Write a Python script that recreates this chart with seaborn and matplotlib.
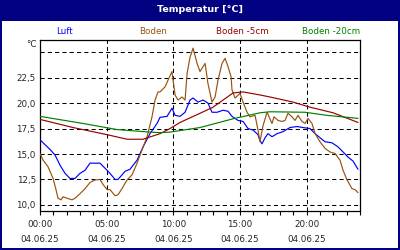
import matplotlib
matplotlib.use("Agg")
import matplotlib.pyplot as plt
import matplotlib.patches as mpatches
import seaborn as sns
import pandas as pd

# ---- data (hours since 00:00 on 04.06.25, °C) ----
luft_h = [0, 0.23, 0.75, 1.13, 1.5, 1.88, 2.25, 2.63, 3.0, 3.38, 3.75, 4.13, 4.5, 4.88,
          5.25, 5.63, 5.85, 6.38, 6.75, 7.28, 7.73, 8.25, 8.78, 9.0, 9.53, 9.9, 10.13,
          10.5, 10.88, 11.25, 11.48, 11.85, 12.23, 12.6, 12.9, 13.28, 13.73, 14.1, 14.4,
          14.85, 15.23, 15.6, 15.98, 16.35, 16.5, 16.65, 16.88, 17.1, 17.4, 17.78, 18.23,
          18.75, 19.28, 19.73, 20.25, 20.63, 21.0, 21.38, 21.9, 22.35, 22.73, 23.1, 23.48,
          23.85]
luft_v = [16.4, 16.1, 15.45, 14.9, 13.9, 13.1, 12.6, 12.6, 13.1, 13.4, 14.1, 14.1, 14.1,
          13.6, 13.1, 12.5, 12.5, 13.3, 13.5, 14.4, 15.7, 17.0, 18.0, 18.6, 18.7, 19.5,
          18.8, 18.7, 19.1, 20.3, 20.5, 20.1, 20.3, 20.0, 19.1, 19.1, 19.3, 19.2, 18.7,
          18.3, 18.2, 17.5, 17.35, 16.9, 16.3, 16.0, 16.6, 17.0, 16.7, 17.0, 17.2, 17.6,
          17.7, 17.6, 17.5, 17.0, 16.6, 16.2, 16.1, 15.7, 15.2, 14.7, 14.3, 13.5]

boden_h = [0, 0.23, 0.6, 0.98, 1.2, 1.35, 1.58, 1.73, 2.03, 2.4, 2.63, 3.0, 3.38, 3.75,
           4.13, 4.5, 4.73, 5.03, 5.25, 5.63, 5.85, 6.15, 6.53, 6.9, 7.28, 7.65, 8.03,
           8.4, 8.63, 8.85, 9.0, 9.38, 9.6, 9.9, 9.98, 10.13, 10.35, 10.65, 10.88, 11.03,
           11.25, 11.48, 11.78, 12.0, 12.38, 12.6, 12.9, 13.13, 13.35, 13.65, 13.88, 14.1,
           14.33, 14.4, 14.63, 15.0, 15.23, 15.53, 15.75, 16.13, 16.35, 16.5, 16.73, 17.03,
           17.18, 17.4, 17.55, 17.85, 18.15, 18.38, 18.6, 18.9, 19.13, 19.35, 19.65, 19.88,
           20.1, 20.4, 20.63, 21.0, 21.38, 21.75, 22.13, 22.5, 22.73, 23.03, 23.4, 23.63,
           23.85]
boden_v = [15.05, 14.4, 13.75, 12.6, 11.5, 10.65, 10.5, 10.8, 10.65, 10.5, 10.65, 11.1,
           11.6, 12.2, 12.45, 12.5, 12.0, 11.5, 11.5, 10.9, 11.0, 11.6, 12.45, 12.95, 14.1,
           15.4, 16.7, 18.65, 20.3, 21.1, 21.1, 21.6, 22.25, 23.1, 22.25, 20.8, 20.3, 20.6,
           20.3, 22.9, 24.5, 25.4, 23.9, 23.1, 23.9, 21.9, 20.1, 20.6, 22.25, 23.9, 24.4,
           23.6, 22.6, 21.3, 20.5, 20.95, 20.1, 19.1, 18.65, 18.8, 17.35, 16.2, 17.8, 19.1,
           18.65, 18.0, 18.65, 18.3, 18.2, 18.3, 19.0, 18.65, 18.3, 18.8, 18.2, 18.0, 18.5,
           18.0, 17.0, 16.2, 15.55, 15.2, 15.05, 14.4, 13.4, 12.45, 11.6, 11.5, 11.2]

boden5_h = [0, 2.48, 5.03, 6.53, 7.73, 9.0, 9.75, 10.5, 12.0, 12.98, 14.48, 15.23, 16.5,
            17.25, 18.98, 20.25, 21.98, 23.85]
boden5_v = [18.4, 17.6, 16.9, 16.45, 16.45, 17.0, 17.5, 18.1, 19.0, 19.6, 21.0, 21.1, 20.8,
            20.6, 20.1, 19.6, 19.05, 18.1]

boden20_h = [0, 3.23, 5.78, 8.25, 9.0, 9.75, 12.0, 14.48, 16.5, 17.25, 19.9, 21.5, 23.85]
boden20_v = [18.7, 18.0, 17.4, 17.15, 17.1, 17.15, 17.6, 18.46, 19.05, 19.15, 19.1, 18.8, 18.5]

series_names = ["Luft", "Boden", "Boden -5cm", "Boden -20cm"]
series_colors = ["#0000FF", "#99520F", "#990000", "#008000"]
x_tick_hours = [0, 5, 10, 15, 20]
x_tick_labels = ["00:00\n04.06.25", "05:00\n04.06.25", "10:00\n04.06.25",
                 "15:00\n04.06.25", "20:00\n04.06.25"]
y_ticks = [10.0, 12.5, 15.0, 17.5, 20.0, 22.5, 25.0]
y_tick_labels = ["10,0", "12,5", "15,0", "17,5", "20,0", "22,5", ""]

sns.set_style("white")
plt.rcParams["font.family"] = ["DejaVu Sans"]

NAVY = "#000080"
fig = plt.figure(figsize=(4, 2.5), dpi=100)
fig.patch.set_facecolor(NAVY)
fig.patches.append(mpatches.Rectangle((2 / 400, 2.5 / 250), 396 / 400, 227 / 250,
                                      transform=fig.transFigure, facecolor="white",
                                      edgecolor="none", zorder=-5))
fig.text(0.5, 1 - 9 / 250, "Temperatur [°C]", color="white", fontsize=6.8,
         fontweight="bold", ha="center", va="center")

ax = fig.add_axes([40 / 400, 39.5 / 250, 320 / 400, 170.5 / 250])
ax.set_zorder(2)
ax.set_facecolor("white")

data = [(luft_h, luft_v), (boden_h, boden_v), (boden5_h, boden5_v), (boden20_h, boden20_v)]
for (h, v), name, col in zip(data, series_names, series_colors):
    df = pd.DataFrame({"h": h, "v": v})
    sns.lineplot(data=df, x="h", y="v", ax=ax, color=col, linewidth=0.85,
                 estimator=None, sort=False, zorder=3)

# legend row
legend_x = [64, 153, 242, 331]
for name, col, lx in zip(series_names, series_colors, legend_x):
    fig.text(lx / 400, 1 - 31 / 250, name, color=col, fontsize=6.3, ha="center", va="center")

ax.set_xlim(0, 24)
ax.set_ylim(9.45, 26.2)
ax.set_xlabel("")
ax.set_ylabel("")
ax.set_xticks(x_tick_hours)
ax.set_xticklabels(x_tick_labels, fontsize=6.3, linespacing=1.78)
ax.set_xticks(range(0, 25), minor=True)
ax.set_yticks(y_ticks)
ax.set_yticklabels(y_tick_labels, fontsize=6.3)
ax.tick_params(axis="x", which="both", direction="out", length=3, width=0.8,
               color="black", pad=4, bottom=True)
ax.tick_params(axis="y", length=0, pad=3)
for s in ax.spines.values():
    s.set_visible(True)
    s.set_color("black")
    s.set_linewidth(0.9)

for yv in y_ticks:
    ax.axhline(yv, color="black", linewidth=0.75, linestyle=(0, (4, 3)), zorder=1)
for xv in x_tick_hours[1:]:
    ax.axvline(xv, color="black", linewidth=0.75, linestyle=(0, (4, 3)), zorder=1)

fig.text(31 / 400, 1 - 45 / 250, "°C", fontsize=6.3, ha="center", va="center")

fig.savefig("out.png", dpi=100, facecolor=fig.get_facecolor())
